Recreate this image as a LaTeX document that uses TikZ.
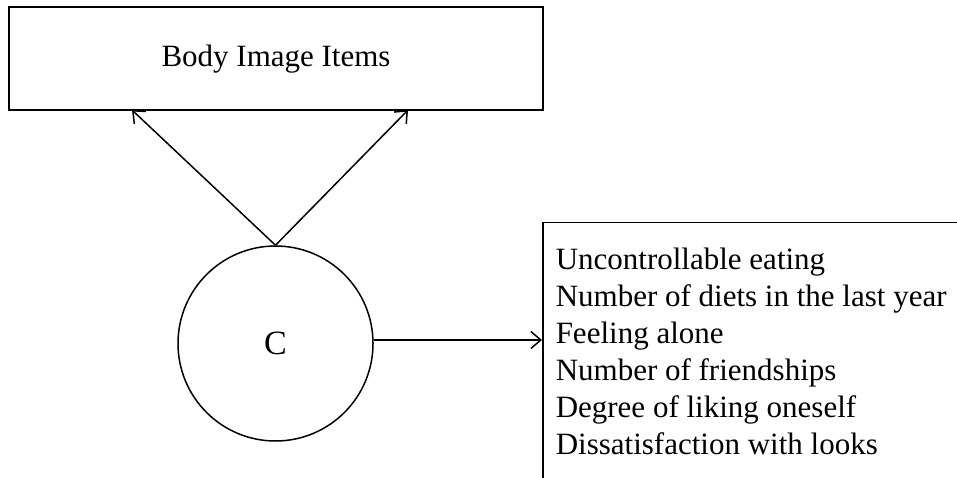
\documentclass[tikz,border=0pt]{standalone}
\usepackage{fontspec}
\setmainfont{Liberation Serif}
\usetikzlibrary{arrows.meta}
\begin{document}
\begin{tikzpicture}[x=1pt,y=-1pt,
  line width=1.5pt,
  txt/.style={font=\fontsize{31}{37}\selectfont},
  arr/.style={-{Straight Barb[length=10pt,width=17pt,line width=1.5pt]}},
  boxnode/.style={draw,rectangle,inner sep=0pt,txt}]
\clip (0,0) rectangle (957,478);
\fill[white] (0,0) rectangle (957,478);
% top box
\node[boxnode,minimum width=534pt,minimum height=103pt,text height=16pt,text depth=0pt] (top) at (276,58.5) {Body Image Items};
% circle
\node[draw,circle,minimum size=195pt,inner sep=0pt,font=\fontsize{34}{40}\selectfont] (C) at (275.5,343.5) {C};
% right box
\node[draw,rectangle,anchor=north west,minimum width=500pt,minimum height=300pt,inner sep=0pt] (rbox) at (542,222) {};
\node[txt,align=left,anchor=north west,inner sep=0pt] (items) at (555,247)
  {Uncontrollable eating\\Number of diets in the last year\\Feeling alone\\Number of friendships\\Degree of liking oneself\\Dissatisfaction with looks};
% connectors
\coordinate (t1) at (132,110);
\coordinate (t2) at (408,110);
\coordinate (r1) at (542,340);
\draw[arr] (C.north) -- (t1);
\draw[arr] (C.north) -- (t2);
\draw[arr] (C.east |- r1) -- (r1);
\end{tikzpicture}
\end{document}
